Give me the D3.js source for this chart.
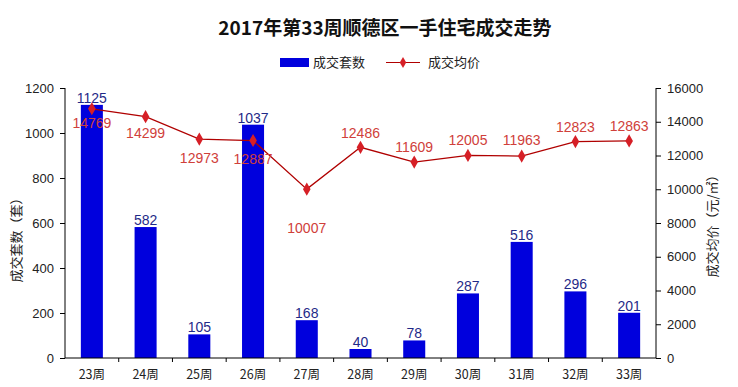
<!DOCTYPE html>
<html><head><meta charset="utf-8">
<script src="https://cdn.jsdelivr.net/npm/d3@7"></script>
<style>body{margin:0;background:#fff}svg{display:block}</style>
</head><body><div id="chart"></div>
<script>
const weeks = ["23周","24周","25周","26周","27周","28周","29周","30周","31周","32周","33周"];
const units = [1125,582,105,1037,168,40,78,287,516,296,201];
const prices = [14769,14299,12973,12887,10007,12486,11609,12005,11963,12823,12863];
const leftTicks = [0,200,400,600,800,1000,1200];
const rightTicks = [0,2000,4000,6000,8000,10000,12000,14000,16000];
// price label vertical offsets (layout only)
const priceLabelDy = [19,21,24,23,44,-9,-10,-10,-11,-10,-10];

const W=738,H=387;
const x0=65,x1=656,yTop=88,yBot=358;
const svg=d3.select("#chart").append("svg").attr("width",W).attr("height",H);
const font="'Liberation Sans', Arial, sans-serif";
const cjk="'Noto Sans CJK SC', sans-serif";

const x=d3.scaleBand().domain(weeks).range([x0,x1]).paddingInner(0.59).paddingOuter(0.295);
const xb=d3.scaleBand().domain(weeks).range([x0,x1]);
const yL=d3.scaleLinear().domain([0,1200]).range([yBot,yTop]);
const yR=d3.scaleLinear().domain([0,16000]).range([yBot,yTop]);

// title
svg.append("text").attr("x",385).attr("y",35).attr("text-anchor","middle")
  .attr("font-family",cjk).attr("font-size",19).attr("font-weight","bold").attr("fill","#111")
  .text("2017年第33周顺德区一手住宅成交走势");

// legend
const lg=svg.append("g");
lg.append("rect").attr("x",280).attr("y",58).attr("width",29).attr("height",9).attr("fill","#0000dd");
lg.append("text").attr("x",313).attr("y",67).attr("font-family",cjk).attr("font-size",13).attr("fill","#222").text("成交套数");
lg.append("line").attr("x1",386).attr("x2",420).attr("y1",62.5).attr("y2",62.5).attr("stroke","#b00000").attr("stroke-width",1.2);
lg.append("path").attr("d",d3.symbol(d3.symbolDiamond,36)()).attr("transform","translate(403,62.5)").attr("fill","#d61f26");
lg.append("text").attr("x",428).attr("y",67).attr("font-family",cjk).attr("font-size",13).attr("fill","#222").text("成交均价");

// bars
svg.append("g").selectAll("rect").data(units).join("rect")
  .attr("x",(d,i)=>x(weeks[i])).attr("width",x.bandwidth())
  .attr("y",d=>yL(d)).attr("height",d=>yBot-yL(d)).attr("fill","#0000dd");

// bar labels
svg.append("g").selectAll("text").data(units).join("text")
  .attr("x",(d,i)=>x(weeks[i])+x.bandwidth()/2).attr("y",d=>yL(d)-2)
  .attr("text-anchor","middle").attr("font-family",font).attr("font-size",14).attr("fill","#1f2a88")
  .text(d=>d);

// axes
const fmt=d3.format("d");
const axL=svg.append("g").attr("transform",`translate(${x0},0)`)
  .call(d3.axisLeft(yL).tickValues(leftTicks).tickFormat(fmt).tickSize(5).tickPadding(6));
const axR=svg.append("g").attr("transform",`translate(${x1},0)`)
  .call(d3.axisRight(yR).tickValues(rightTicks).tickFormat(fmt).tickSize(5).tickPadding(6));
[axL,axR].forEach(a=>{
  a.select(".domain").attr("d",`M0,${yTop}V${yBot}`).attr("stroke","#000");
  a.selectAll("text").attr("font-family",font).attr("font-size",13).attr("fill","#222");
  a.selectAll(".tick line").attr("stroke","#000");
});
const axX=svg.append("g").attr("transform",`translate(0,${yBot})`)
  .call(d3.axisBottom(xb).tickSize(0).tickPadding(12));
axX.select(".domain").attr("d",`M${x0},0H${x1}`).attr("stroke","#000");
axX.selectAll("text").attr("font-family",cjk).attr("font-size",12.5).attr("fill","#222");
// boundary tick marks
svg.append("g").selectAll("line").data(weeks.slice(1)).join("line")
  .attr("x1",d=>xb(d)).attr("x2",d=>xb(d)).attr("y1",yBot).attr("y2",yBot+4).attr("stroke","#000");

// axis titles
svg.append("text").attr("transform","translate(21,237) rotate(-90)").attr("text-anchor","middle")
  .attr("font-family",cjk).attr("font-size",13).attr("fill","#222").text("成交套数（套）");
svg.append("text").attr("transform","translate(717,223) rotate(-90)").attr("text-anchor","middle")
  .attr("font-family",cjk).attr("font-size",13).attr("fill","#222").text("成交均价（元/㎡）");

// line
const cx=i=>xb(weeks[i])+xb.bandwidth()/2;
svg.append("path").datum(prices)
  .attr("d",d3.line().x((d,i)=>cx(i)).y(d=>yR(d)))
  .attr("fill","none").attr("stroke","#b00000").attr("stroke-width",1.3);
svg.append("g").selectAll("path").data(prices).join("path")
  .attr("d",d3.symbol(d3.symbolDiamond,50))
  .attr("transform",(d,i)=>`translate(${cx(i)},${yR(d)})`).attr("fill","#d61f26");
svg.append("g").selectAll("text").data(prices).join("text")
  .attr("x",(d,i)=>cx(i)).attr("y",(d,i)=>yR(d)+priceLabelDy[i])
  .attr("text-anchor","middle").attr("font-family",font).attr("font-size",14).attr("fill","#d0403a")
  .text(d=>d);
</script></body></html>
